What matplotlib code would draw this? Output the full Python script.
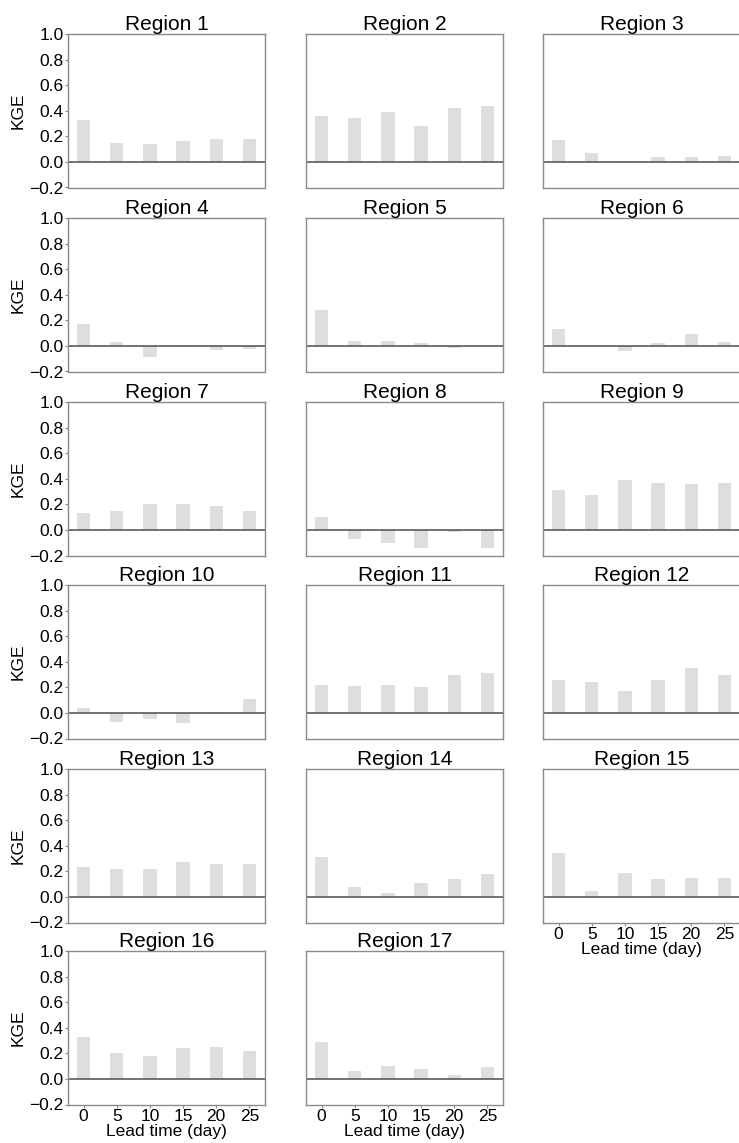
"""Bar panels of KGE by lead time for 17 regions."""

import numpy as np
import matplotlib.pyplot as plt

plt.rcParams["font.family"] = ["Liberation Sans", "DejaVu Sans"]

lead_days = [0, 5, 10, 15, 20, 25]
region_names = [f"Region {i}" for i in range(1, 18)]

kge_r1 = [0.33, 0.15, 0.14, 0.16, 0.18, 0.18]
kge_r2 = [0.36, 0.34, 0.39, 0.28, 0.42, 0.44]
kge_r3 = [0.17, 0.07, -0.01, 0.04, 0.04, 0.05]
kge_r4 = [0.17, 0.03, -0.09, -0.01, -0.03, -0.025]
kge_r5 = [0.28, 0.04, 0.04, 0.02, -0.02, 0.005]
kge_r6 = [0.13, 0.01, -0.04, 0.02, 0.09, 0.03]
kge_r7 = [0.13, 0.15, 0.20, 0.20, 0.19, 0.15]
kge_r8 = [0.10, -0.07, -0.10, -0.14, -0.02, -0.14]
kge_r9 = [0.31, 0.27, 0.39, 0.37, 0.36, 0.37]
kge_r10 = [0.04, -0.07, -0.05, -0.08, 0.01, 0.11]
kge_r11 = [0.22, 0.21, 0.22, 0.20, 0.30, 0.31]
kge_r12 = [0.26, 0.24, 0.17, 0.26, 0.35, 0.30]
kge_r13 = [0.23, 0.22, 0.22, 0.27, 0.26, 0.26]
kge_r14 = [0.31, 0.08, 0.03, 0.11, 0.14, 0.18]
kge_r15 = [0.34, 0.05, 0.19, 0.14, 0.15, 0.15]
kge_r16 = [0.33, 0.20, 0.18, 0.24, 0.25, 0.22]
kge_r17 = [0.29, 0.06, 0.10, 0.08, 0.03, 0.09]

all_kge = [kge_r1, kge_r2, kge_r3, kge_r4, kge_r5, kge_r6, kge_r7, kge_r8,
           kge_r9, kge_r10, kge_r11, kge_r12, kge_r13, kge_r14, kge_r15,
           kge_r16, kge_r17]

W, H = 739, 1143
fig = plt.figure(figsize=(W / 100, H / 100), dpi=100)

# panel layout in pixels
col_left = [68, 306, 543]
row_top = [34, 218, 402, 585, 769, 951]
ax_w, ax_h = 197, 153.5

spine_col = "#8a8a8a"
yticks = np.arange(-0.2, 1.01, 0.2)

for i, (name, vals) in enumerate(zip(region_names, all_kge)):
    r, c = divmod(i, 3)
    left = col_left[c] / W
    bottom = 1 - (row_top[r] + ax_h) / H
    ax = fig.add_axes([left, bottom, ax_w / W, ax_h / H])

    ax.bar(lead_days, vals, width=2, color="#dedede")
    ax.axhline(0, color="#4d4d4d", linewidth=1.1)

    ax.set_ylim(-0.2, 1.0)
    ax.set_yticks(yticks)
    ax.set_xticks(lead_days)
    ax.set_title(name, fontsize=15, pad=2)

    for s in ax.spines.values():
        s.set_color(spine_col)
        s.set_linewidth(1.0)
    ax.tick_params(axis="both", length=2, color=spine_col, labelsize=12.5, pad=1)

    if c == 0:
        ax.set_ylabel("KGE", fontsize=12.5, labelpad=3)
        ax.set_yticklabels([f"{v:.1f}".replace("-", "\u2212") for v in yticks])
    else:
        ax.tick_params(axis="y", left=False, labelleft=False)

    if i in (14, 15, 16):
        ax.set_xlabel("Lead time (day)", fontsize=12.5, labelpad=0)
    else:
        ax.tick_params(axis="x", bottom=False, labelbottom=False)

fig.savefig("out.png", dpi=100)
plt.close(fig)
